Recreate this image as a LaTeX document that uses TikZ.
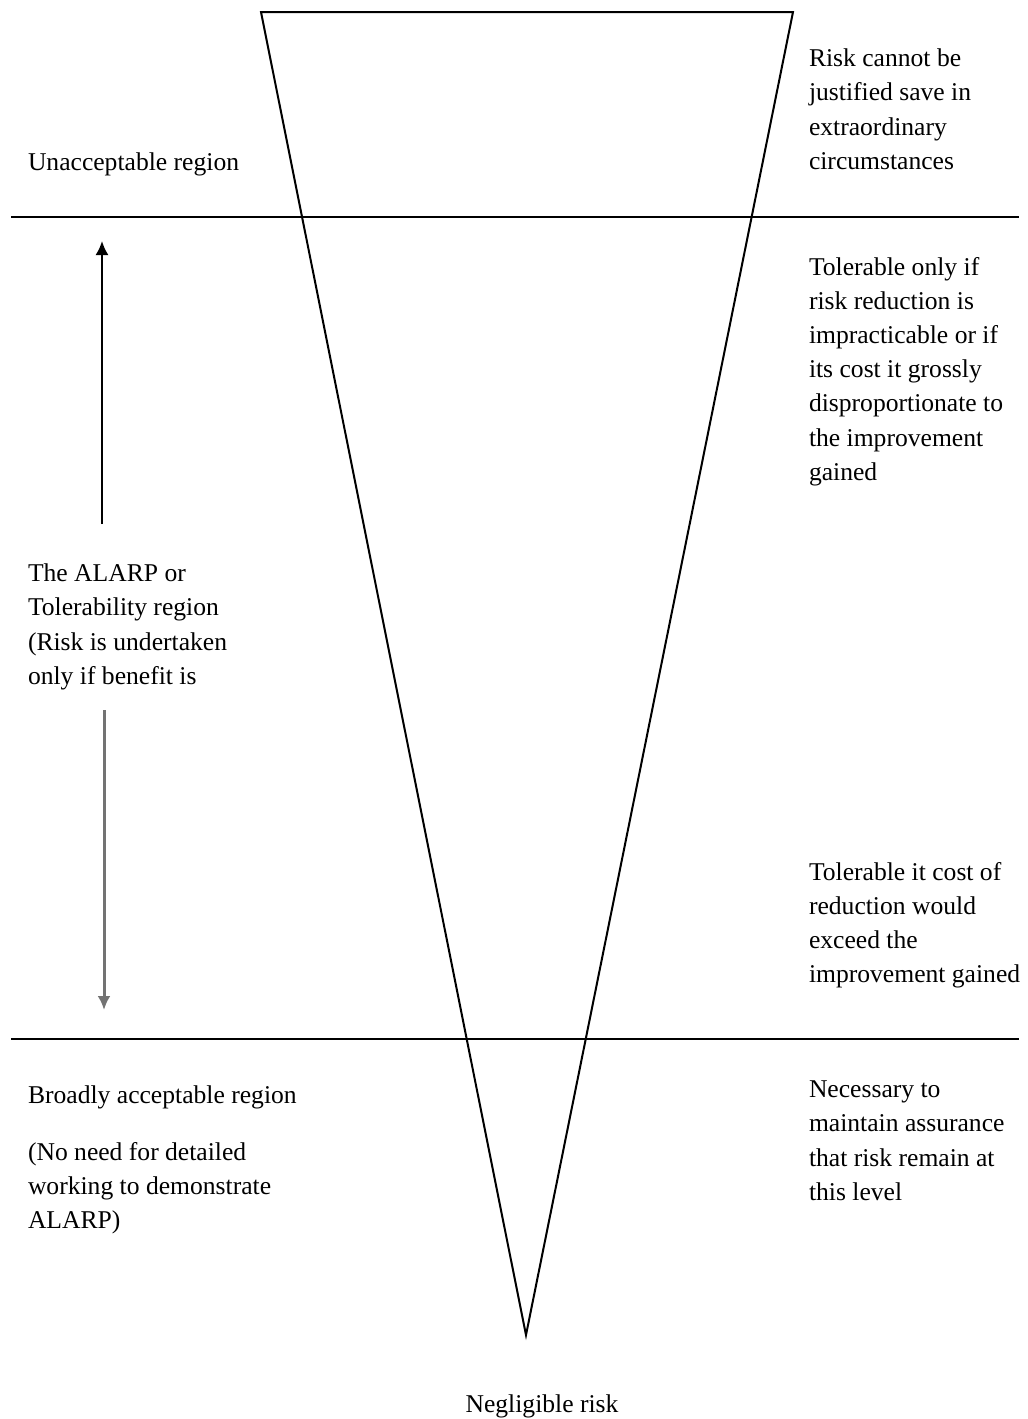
\documentclass[tikz,border=0pt]{standalone}
\usepackage{fontspec}
\setmainfont{Liberation Serif}
\usetikzlibrary{positioning, calc, arrows.meta}

\begin{document}
\begin{tikzpicture}[x=0.5pt, y=-0.5pt, line width=1pt,
    txt/.style={anchor=north west, inner sep=0pt, align=left, font=\fontsize{12.8}{17.1}\selectfont}]
                \useasboundingbox (0,0) rectangle (1028,1419);

                \coordinate (A) at (261,12);
                \coordinate (B) at (793,12);
                \coordinate (C) at (526,1335);

                \coordinate (H1) at (11,217);
                \coordinate (H2) at (1019,217);
                \coordinate (H3) at (11,1039);
                \coordinate (H4) at (1019,1039);

                \coordinate (U1) at (102,524);
                \coordinate (U2) at (102,241);
                \coordinate (D1) at (104,710);
                \coordinate (D2) at (104,1010);

                % triangle
                \draw (A) -- (B) -- (C) -- cycle;
                \draw[line width=1.4pt] (A) -- (B);

                % region borders
                \draw (H1) -- (H2);
                \draw (H3) -- (H4);

                \draw[-{Latex[length=7pt, width=6.5pt]}] (U1) -- (U2);
                \draw[-{Latex[length=7pt, width=6.5pt]}, black!55, line width=1.5pt] (D1) -- (D2);

                % left column
                \node[txt] (L1) at (27,152) {Unacceptable region};
                \node[txt] (L2) at (27,563) {The ALARP or\\Tolerability region\\(Risk is undertaken\\only if benefit is};
                \node[txt] (L3) at (27,1085) {Broadly acceptable region};
                \node[txt] (L4) at (27,1141) {(No need for detailed\\working to demonstrate\\ALARP)};

                % right column
                \node[txt] (R1) at (808,48) {Risk cannot be\\justified save in\\extraordinary\\circumstances};
                \node[txt] (R2) at (808,256) {Tolerable only if\\risk reduction is\\impracticable or if\\its cost it grossly\\disproportionate to\\the improvement\\gained};
                \node[txt] (R3) at (808,861) {Tolerable it cost of\\reduction would\\exceed the\\improvement gained};
                \node[txt] (R4) at (808,1080) {Necessary to\\maintain assurance\\that risk remain at\\this level};

                \node[txt, anchor=north] (N) at (542,1394) {Negligible risk};
\end{tikzpicture}
\end{document}
